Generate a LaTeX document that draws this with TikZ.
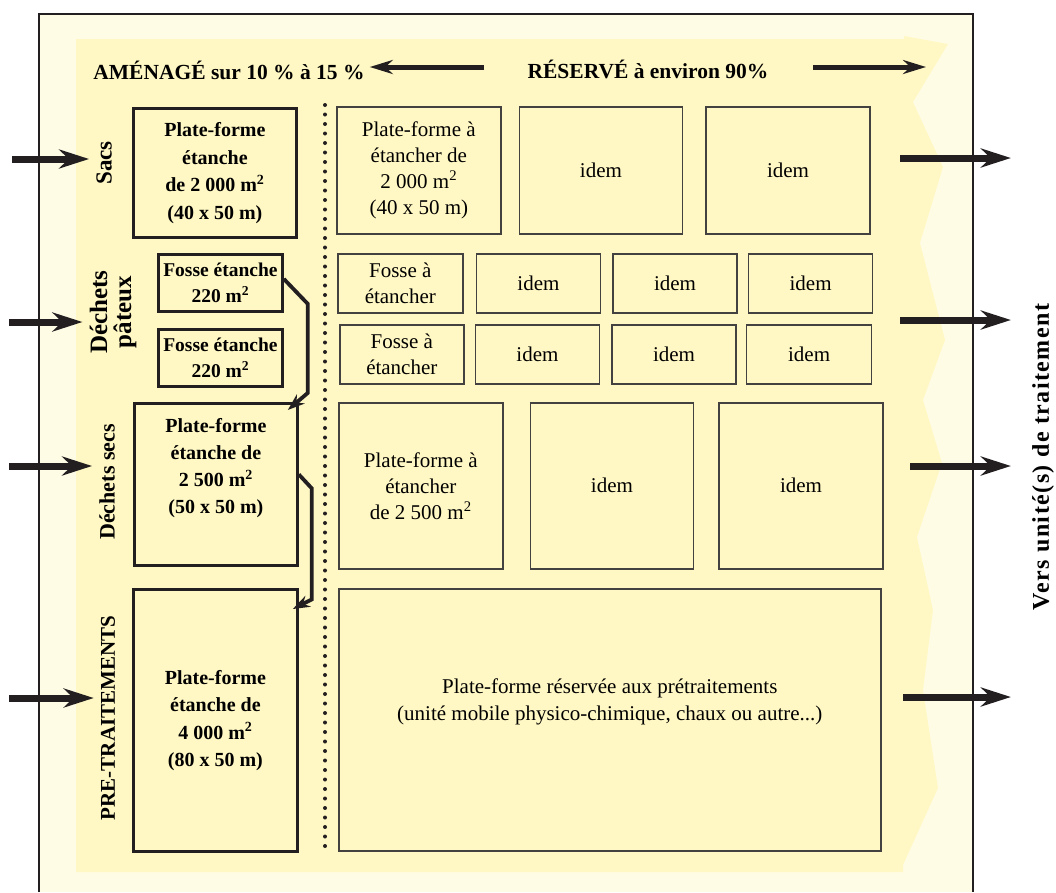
\documentclass[tikz,border=0pt]{standalone}
\usepackage{fontspec}
\setmainfont{Liberation Serif}
\usepackage{xcolor}
\usetikzlibrary{arrows.meta, positioning}
\definecolor{cream}{HTML}{FFFCE6}
\definecolor{paleyellow}{HTML}{FFF8C4}
\definecolor{ink}{HTML}{231F20}

\begin{document}
\begin{tikzpicture}[
  x=1pt, y=-1pt,
  node distance=17pt,
  mainbox/.style={rectangle, draw=ink, line width=2.8pt, fill=paleyellow, anchor=north west, inner sep=0pt, align=center, font=\bfseries\fontsize{20}{27.5}\selectfont},
  fossebox/.style={mainbox, font=\bfseries\fontsize{19.5}{26}\selectfont},
  sparebox/.style={rectangle, draw=ink!85, line width=1.6pt, fill=paleyellow, anchor=north west, inner sep=0pt, align=center, font=\fontsize{21}{26}\selectfont},
  sidelabel/.style={rotate=90, inner sep=1pt, align=center, font=\bfseries\fontsize{23}{24}\selectfont},
  toplabel/.style={inner sep=1pt, font=\bfseries\fontsize{21.5}{24}\selectfont},
  inarrow/.style={-{Stealth[length=30pt, width=19pt]}, line width=7pt, draw=ink},
  toparrow/.style={-{Stealth[length=23pt, width=14pt]}, line width=5pt, draw=ink},
  link/.style={-{Stealth[length=17pt, width=12pt]}, line width=3.8pt, draw=ink},
]
\useasboundingbox (0,0) rectangle (1056,892);

% Site background
\fill[cream] (39,14) rectangle (973,892);
\fill[paleyellow] (76,39) -- (904,39) -- (904,36) -- (948,44) -- (913,102) -- (943,167)
  -- (920,243) -- (945,340) -- (923,400) -- (942,463) -- (917,537) -- (933,610)
  -- (923,690) -- (938,788) -- (903,865) -- (903,872) -- (76,872) -- cycle;
\draw[ink, line width=2.4pt] (39,892) -- (39,14) -- (973,14) -- (973,892);

% Headings
\node[toplabel] (amenage) at (229,70) {AMÉNAGÉ sur 10 \% à 15 \%};
\node[toplabel] (reserve) at (648,69) {RÉSERVÉ à environ 90\%};
\coordinate (amFrom) at (484,67);
\coordinate (resFrom) at (813,67);
\coordinate (resTo) at (926,67);
\draw[toparrow] (amFrom) -- ([xshift=4pt]amFrom -| amenage.east);
\draw[toparrow] (resFrom) -- (resTo);

% Divider
\draw[ink, line width=4pt, line cap=round, dash pattern=on 0pt off 9.5pt] (325,105) -- (325,850);

% Built platforms
\node[mainbox, minimum width=163pt, minimum height=129pt] (pfSacs) at (132,107)
  {Plate-forme\\étanche\\de 2 000 m\textsuperscript{2}\\(40 x 50 m)};
\node[fossebox, minimum width=124pt, minimum height=57pt] (fosseA) at (157,253)
  {Fosse étanche\\220 m\textsuperscript{2}};
\node[fossebox, minimum width=124pt, minimum height=57pt] (fosseB) at (157,328)
  {Fosse étanche\\220 m\textsuperscript{2}};
\node[mainbox, minimum width=163pt, minimum height=162pt,
  label={[align=center, font=\bfseries\fontsize{20}{27}\selectfont, yshift=16pt]center:Plate-forme\\étanche de\\2 500 m\textsuperscript{2}\\(50 x 50 m)}] (pfSecs) at (133,402) {};
\node[mainbox, minimum width=164pt, minimum height=262pt] (pfPre) at (132,588)
  {Plate-forme\\étanche de\\4 000 m\textsuperscript{2}\\(80 x 50 m)};

% Reserved platforms
\node[sparebox, minimum width=164pt, minimum height=127pt] (resA1) at (336,106)
  {Plate-forme à\\étancher de\\2 000 m\textsuperscript{2}\\(40 x 50 m)};
\node[sparebox, minimum width=163pt, minimum height=127pt, right=of resA1] (resA2) {idem};
\node[sparebox, minimum width=164pt, minimum height=127pt, right=22pt of resA2] (resA3) {idem};

\node[sparebox, minimum width=125pt, minimum height=59pt] (resB1) at (337,253)
  {Fosse à\\étancher};
\node[sparebox, minimum width=124pt, minimum height=59pt, right=12pt of resB1] (resB2) {idem};
\node[sparebox, minimum width=124pt, minimum height=59pt, right=11pt of resB2] (resB3) {idem};
\node[sparebox, minimum width=124pt, minimum height=59pt, right=10pt of resB3] (resB4) {idem};

\node[sparebox, minimum width=124pt, minimum height=59pt] (resC1) at (339,324)
  {Fosse à\\étancher};
\node[sparebox, minimum width=124pt, minimum height=59pt, right=10pt of resC1] (resC2) {idem};
\node[sparebox, minimum width=124pt, minimum height=59pt, right=11pt of resC2] (resC3) {idem};
\node[sparebox, minimum width=125pt, minimum height=59pt, right=9pt of resC3] (resC4) {idem};

\node[sparebox, minimum width=164pt, minimum height=166pt] (resD1) at (338,402)
  {Plate-forme à\\étancher\\de 2 500 m\textsuperscript{2}};
\node[sparebox, minimum width=163pt, minimum height=166pt, right=26pt of resD1] (resD2) {idem};
\node[sparebox, minimum width=164pt, minimum height=166pt, right=24pt of resD2] (resD3) {idem};

\node[sparebox, minimum width=542pt, minimum height=262pt,
  label={[align=center, font=\fontsize{21}{27}\selectfont, yshift=18pt]center:Plate-forme réservée aux prétraitements\\(unité mobile physico-chimique, chaux ou autre...)}] (resE) at (338,588) {};

% Transfers
\draw[link] ([yshift=4pt]fosseA.east) -- ++(24,25) -- ++(0,89) -- ([xshift=-11pt, yshift=-8pt]pfSecs.north east);
\draw[link] ([yshift=10pt]pfSecs.east) -- ++(13,14) -- ++(0,111) -- ([xshift=-6pt, yshift=-21pt]pfPre.north east);

% Side labels
\node[sidelabel] (lblSacs) at (104,163) {Sacs};
\node[sidelabel, font=\bfseries\fontsize{25}{24}\selectfont] (lblPateux) at (113,312) {Déchets\\pâteux};
\node[sidelabel, font=\bfseries\fontsize{22}{24}\selectfont] (lblSecs) at (107,482) {Déchets secs};
\node[sidelabel, font=\bfseries\fontsize{21}{24}\selectfont] (lblPre) at (108,718) {PRE-TRAITEMENTS};
\node[sidelabel, font=\bfseries\fontsize{24}{24}\selectfont\addfontfeature{LetterSpace=6}] (lblVers) at (1043,457) {Vers unité(s) de traitement};

% Inputs
\coordinate (inSacs) at (12,159);
\coordinate (inPateux) at (9,322);
\coordinate (inSecs) at (9,466);
\coordinate (inPre) at (9,698);
\draw[inarrow] (inSacs) -- ([xshift=-6pt]inSacs -| lblSacs.north);
\draw[inarrow] (inPateux) -- ([xshift=-6pt]inPateux -| lblPateux.north);
\draw[inarrow] (inSecs) -- ([xshift=-6pt]inSecs -| lblSecs.north);
\draw[inarrow] (inPre) -- ([xshift=-6pt]inPre -| lblPre.north);

% Outputs
\coordinate (outSacs) at (900,158);
\coordinate (outPateux) at (900,320);
\coordinate (outSecs) at (910,466);
\coordinate (outPre) at (903,697);
\draw[inarrow] (outSacs) -- ([xshift=-20pt]outSacs -| lblVers.north);
\draw[inarrow] (outPateux) -- ([xshift=-20pt]outPateux -| lblVers.north);
\draw[inarrow] (outSecs) -- ([xshift=-20pt]outSecs -| lblVers.north);
\draw[inarrow] (outPre) -- ([xshift=-20pt]outPre -| lblVers.north);

\end{tikzpicture}
\end{document}
